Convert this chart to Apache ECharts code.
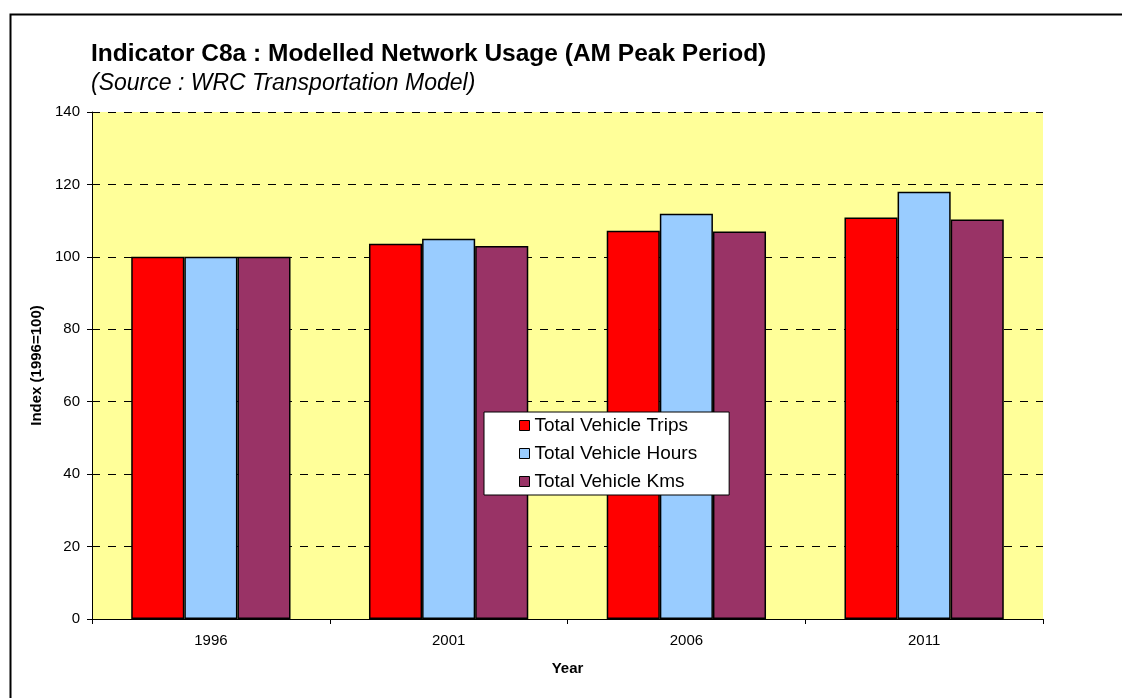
<!DOCTYPE html>
<html>
<head>
<meta charset="utf-8">
<script src="https://cdn.jsdelivr.net/npm/echarts@6/dist/echarts.min.js"></script>
<style>
html,body{margin:0;padding:0;background:#fff;}
#c{width:1122px;height:698px;}
</style>
</head>
<body>
<div id="c"></div>
<script>
const categories = ['1996', '2001', '2006', '2011'];
const seriesNames = ['Total Vehicle Trips', 'Total Vehicle Hours', 'Total Vehicle Kms'];
const trips = [100, 103.6, 107.2, 110.9];
const hours = [100, 105.0, 111.9, 118.0];
const kms = [100, 103.0, 107.0, 110.3];
const colors = ['#FF0000', '#99CCFF', '#993366'];

const chart = echarts.init(document.getElementById('c'), null, {renderer: 'canvas'});
const font = 'Arial, "Liberation Sans", sans-serif';
const data = [trips, hours, kms];

chart.setOption({
  animation: false,
  textStyle: {fontFamily: font},
  title: [
    {text: 'Indicator C8a : Modelled Network Usage (AM Peak Period)', left: 86, top: 37,
     textStyle: {fontFamily: font, fontSize: 24.5, fontWeight: 'bold', color: '#000'}},
    {text: '(Source : WRC Transportation Model)', left: 86, top: 67,
     textStyle: {fontFamily: font, fontSize: 23, fontStyle: 'italic', fontWeight: 'normal', color: '#000'}}
  ],
  graphic: [
    {type: 'rect', left: 8, top: 12, shape: {width: 1130, height: 700},
     style: {fill: 'none', stroke: '#000', lineWidth: 2}, silent: true, z: -10}
  ],
  legend: {
    orient: 'vertical', left: 484, top: 412,
    backgroundColor: '#fff', borderColor: '#000', borderWidth: 1,
    padding: [4, 32, 4, 35],
    itemWidth: 10, itemHeight: 10, itemGap: 9,
    icon: 'rect',
    textStyle: {fontFamily: font, fontSize: 19, color: '#000', lineHeight: 19},
    data: seriesNames,
    itemStyle: {borderColor: '#000', borderWidth: 1}
  },
  grid: {left: 92, right: 79, top: 112, bottom: 79, show: true, backgroundColor: '#FFFF99', borderWidth: 0},
  xAxis: {
    type: 'category', data: categories,
    name: 'Year', nameLocation: 'middle', nameGap: 42,
    nameTextStyle: {fontFamily: font, fontSize: 15, fontWeight: 'bold', color: '#000'},
    axisLine: {lineStyle: {color: '#000', width: 1}},
    axisTick: {show: true, length: 5, lineStyle: {color: '#000'}},
    axisLabel: {fontFamily: font, fontSize: 15, color: '#000', margin: 14}
  },
  yAxis: {
    type: 'value', min: 0, max: 140, interval: 20,
    name: 'Index (1996=100)', nameLocation: 'middle', nameGap: 45, nameRotate: 90,
    nameTextStyle: {fontFamily: font, fontSize: 15, fontWeight: 'bold', color: '#000'},
    axisLine: {show: true, lineStyle: {color: '#000', width: 1}},
    axisTick: {show: true, length: 5, lineStyle: {color: '#000'}},
    axisLabel: {fontFamily: font, fontSize: 15, color: '#000', margin: 12},
    splitLine: {show: true, lineStyle: {color: '#000', type: [8, 8], width: 1}}
  },
  series: seriesNames.map((n, i) => ({
    name: n, type: 'bar', data: data[i],
    barGap: '0%', barCategoryGap: '33%',
    itemStyle: {color: colors[i], borderColor: '#000', borderWidth: 1.5}
  }))
});
</script>
</body>
</html>
